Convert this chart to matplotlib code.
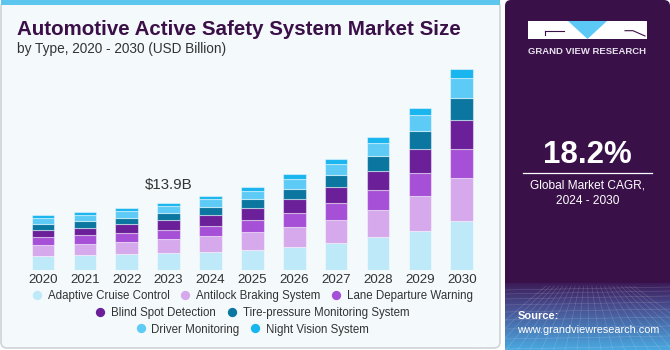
import matplotlib
matplotlib.use("Agg")
import matplotlib.pyplot as plt
import numpy as np
from matplotlib.lines import Line2D
from matplotlib.patches import FancyBboxPatch, Rectangle, Polygon

plt.rcParams["font.family"] = ["Liberation Sans", "DejaVu Sans"]

# values (USD billion)
years = ["2020", "2021", "2022", "2023", "2024", "2025", "2026", "2027", "2028", "2029", "2030"]
adaptive_cruise = [2.81, 2.95, 3.16, 3.44, 3.72, 4.14, 4.70, 5.61, 6.74, 8.21, 10.18]
antilock_braking = [2.25, 2.39, 2.67, 2.88, 3.23, 3.72, 4.28, 4.91, 5.89, 7.23, 9.05]
lane_departure = [1.82, 1.82, 1.89, 2.04, 2.18, 2.53, 2.88, 3.44, 4.07, 4.98, 6.04]
blind_spot = [1.47, 1.68, 1.82, 1.96, 2.25, 2.53, 2.88, 3.40, 4.14, 4.98, 6.25]
tire_pressure = [1.26, 1.40, 1.40, 1.61, 1.68, 1.82, 2.18, 2.49, 3.02, 3.72, 4.56]
driver_monitoring = [1.33, 1.26, 1.40, 1.47, 1.68, 1.75, 2.11, 2.42, 2.74, 3.37, 4.14]
night_vision = [0.49, 0.56, 0.56, 0.63, 0.70, 0.84, 0.98, 0.98, 1.26, 1.47, 1.89]

series = [
    ("Adaptive Cruise Control", adaptive_cruise, "#bde9f8"),
    ("Antilock Braking System", antilock_braking, "#d5a9ec"),
    ("Lane Departure Warning", lane_departure, "#a550d6"),
    ("Blind Spot Detection", blind_spot, "#6b209a"),
    ("Tire-pressure Monitoring System", tire_pressure, "#0b769f"),
    ("Driver Monitoring", driver_monitoring, "#5ecbf6"),
    ("Night Vision System", night_vision, "#19b5ef"),
]
legend_rows = [[0, 1, 2], [3, 4], [5, 6]]
highlight_year = "2023"
highlight_label = "$13.9B"

W, H = 670, 350
fig = plt.figure(figsize=(W / 100, H / 100), dpi=100)
fig.patch.set_facecolor("white")

# background layer in pixel coordinates
bg = fig.add_axes([0, 0, 1, 1])
bg.set_xlim(0, W)
bg.set_ylim(H, 0)
bg.axis("off")

bg.add_patch(FancyBboxPatch((1, 1), 499, 347, boxstyle="round,pad=0,rounding_size=6",
                            facecolor="#f4f9fc", edgecolor="#cfd3d6", linewidth=1.2))
bg.add_patch(Rectangle((1, 0), 499, 4.5, facecolor="#5cc6ee", edgecolor="none"))

# right panel
bg.add_patch(FancyBboxPatch((505, 0), 165, 350, boxstyle="round,pad=0,rounding_size=6",
                            facecolor="#3a1049", edgecolor="none"))
grad = np.linspace(0, 1, 100)[:, None]
c_top = np.array([0x3c, 0x1c, 0x58]) / 255
c_mid = np.array([0x48, 0x4e, 0x90]) / 255
c_bot = np.array([0x4a, 0xa8, 0xe0]) / 255
rgb = np.where(grad[..., None] < 0.35,
               c_top + (c_mid - c_top) * (grad[..., None] / 0.35),
               c_mid + (c_bot - c_mid) * ((grad[..., None] - 0.35) / 0.65))
rgb = np.repeat(rgb, 2, axis=1)
bg.imshow(rgb, extent=(505, 670, 350, 283), aspect="auto", zorder=1)
for gx in np.linspace(470, 720, 22):
    bg.plot([587 + (gx - 587) * 0.35, gx], [286, 350], color="white", lw=0.4, alpha=0.2, zorder=2)
for gy in [290, 294, 299, 305, 312, 320, 329, 339, 349]:
    bg.plot([505, 670], [gy, gy - 3], color="white", lw=0.4, alpha=0.2, zorder=2)

# logo
bg.add_patch(Rectangle((527.7, 21), 119, 18, facecolor="white", edgecolor="none", zorder=3))
bg.add_patch(Polygon([(568, 21), (607, 21), (587.5, 39)], closed=True,
                     facecolor="#5bc8f5", edgecolor="none", zorder=4))
bg.plot([544.5, 564], [30.7, 30.7], color="#3a1049", lw=0.8, zorder=5)
bg.plot([544.5, 544.5], [30.7, 35], color="#3a1049", lw=0.8, zorder=5)
bg.plot([625, 633, 645], [30.7, 30.7, 36], color="#3a1049", lw=0.8, zorder=5)
bg.text(587.2, 51.5, "GRAND VIEW RESEARCH", color="#e8e2ee", fontsize=6.8,
        fontweight="bold", ha="center", va="center", zorder=5)

bg.text(587.5, 155, "18.2%", color="white", fontsize=22.5, fontweight="bold",
        ha="center", va="center", zorder=5)
bg.plot([522.7, 652.3], [173.3, 173.3], color="white", lw=0.9, zorder=5)
bg.text(587.5, 185.5, "Global Market CAGR,", color="white", fontsize=8.6,
        ha="center", va="center", zorder=5)
bg.text(587.5, 200.5, "2024 - 2030", color="white", fontsize=8.6,
        ha="center", va="center", zorder=5)
bg.text(517.5, 316, "Source:", color="white", fontsize=8, fontweight="bold",
        ha="left", va="center", zorder=5)
bg.text(517.5, 330, "www.grandviewresearch.com", color="white", fontsize=7.8,
        ha="left", va="center", zorder=5)

# titles
fig.text(17 / W, 1 - 29.5 / H, "Automotive Active Safety System Market Size",
         fontsize=14.8, fontweight="heavy", color="#3b1048", ha="left", va="center")
fig.text(17 / W, 1 - 48.5 / H, "by Type, 2020 - 2030 (USD Billion)",
         fontsize=9.8, color="#333333", ha="left", va="center")

# stacked bars
px_per_unit = 4.75
ax = fig.add_axes([22.07 / W, 1 - 269.5 / H, 460.6 / W, 209.5 / H])
ax.set_facecolor("none")
x = np.arange(len(years))
bottom = np.zeros(len(years))
for name, vals, color in series:
    ax.bar(x, vals, width=0.54, bottom=bottom, color=color,
           edgecolor=(1, 1, 1, 0.45), linewidth=0.8, label=name)
    bottom += np.array(vals)
ax.set_xlim(-0.5, len(years) - 0.5)
ax.set_ylim(0, 209.5 / px_per_unit)
ax.set_xticks(x)
ax.set_xticklabels(years, fontsize=9.6, color="#333333")
ax.tick_params(axis="x", length=0, pad=3)
ax.set_yticks([])
for s in ax.spines.values():
    s.set_visible(False)

hi = years.index(highlight_year)
ax.annotate(highlight_label, (x[hi], bottom[hi]), xytext=(0, 8), textcoords="offset points",
            ha="center", va="bottom", fontsize=10.8, color="#333333")

# legend rows, each centred under the plot
row_y = [296, 313, 329.5]
for row, ry in zip(legend_rows, row_y):
    handles = [Line2D([], [], marker="o", linestyle="none", markersize=6.7,
                      markerfacecolor=series[i][2], markeredgecolor="none") for i in row]
    labels = [series[i][0] for i in row]
    leg = fig.legend(handles, labels, loc="center", bbox_to_anchor=(252.5 / W, 1 - ry / H),
                     ncol=len(row), frameon=False, fontsize=8.3, handlelength=0.8,
                     handletextpad=0.55, columnspacing=0.95, borderpad=0, borderaxespad=0)
    for t in leg.get_texts():
        t.set_color("#333333")

fig.savefig("out.png", dpi=100, facecolor=fig.get_facecolor())
